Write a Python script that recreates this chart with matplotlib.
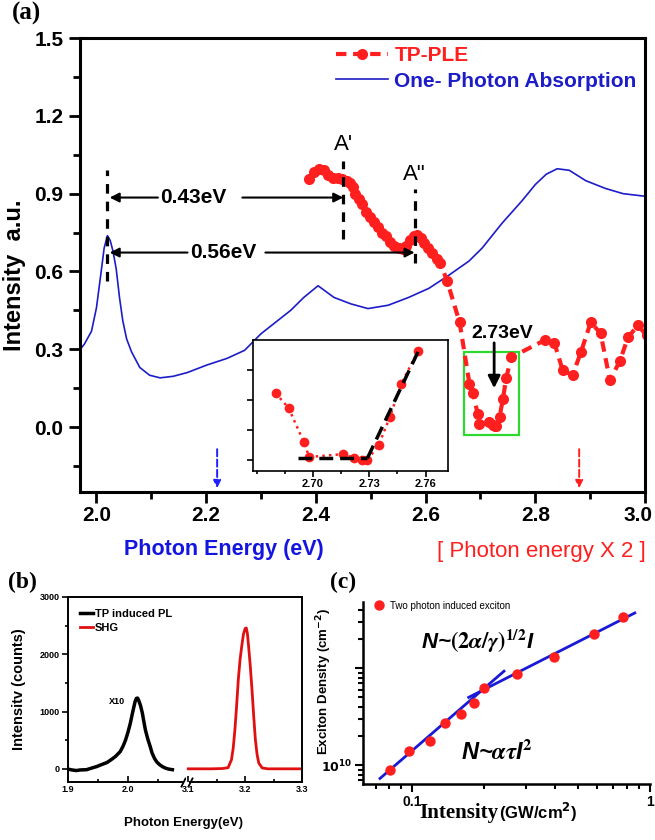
import matplotlib
matplotlib.use('Agg')
import matplotlib.pyplot as plt
from matplotlib.patches import Rectangle
from matplotlib.transforms import ScaledTranslation
from matplotlib.ticker import MultipleLocator, LogLocator, NullFormatter

# ---------------- data ----------------
# (a) one-photon absorption (blue line)
abs_x = [1.969, 1.978, 1.991, 2.000, 2.008, 2.014, 2.020, 2.025, 2.030, 2.036,
         2.042, 2.048, 2.055, 2.064, 2.079, 2.097, 2.116, 2.140, 2.165, 2.202,
         2.238, 2.270, 2.300, 2.330, 2.354, 2.378, 2.404, 2.433, 2.464, 2.495,
         2.532, 2.569, 2.606, 2.642, 2.679, 2.703, 2.739, 2.776, 2.800, 2.820,
         2.840, 2.862, 2.892, 2.928, 2.960, 3.000]
abs_y = [0.296, 0.32, 0.37, 0.46, 0.59, 0.69, 0.738, 0.72, 0.68, 0.61,
         0.50, 0.41, 0.34, 0.29, 0.23, 0.20, 0.19, 0.196, 0.21, 0.24,
         0.265, 0.296, 0.36, 0.41, 0.45, 0.50, 0.545, 0.50, 0.475, 0.457,
         0.47, 0.50, 0.535, 0.585, 0.64, 0.69, 0.785, 0.873, 0.935, 0.975,
         0.996, 0.99, 0.95, 0.92, 0.90, 0.89]

# (a) two-photon PLE (red dots), x in photon energy x 2
tp_x = [2.388, 2.396, 2.405, 2.414, 2.422, 2.431, 2.440, 2.448, 2.456, 2.463,
        2.468, 2.472, 2.478, 2.485, 2.492, 2.499, 2.506, 2.513, 2.520, 2.527,
        2.535, 2.543, 2.551, 2.559, 2.565, 2.571, 2.578, 2.585, 2.592, 2.598,
        2.605, 2.612, 2.620, 2.627, 2.639, 2.662, 2.680, 2.687, 2.695, 2.698,
        2.716, 2.722, 2.726, 2.729, 2.735, 2.741, 2.747, 2.756, 2.817, 2.835,
        2.850, 2.868, 2.883, 2.901, 2.919, 2.936, 2.954, 2.969, 2.987, 3.003]
tp_y = [0.955, 0.985, 0.995, 0.99, 0.97, 0.962, 0.960, 0.955, 0.950, 0.940,
        0.925, 0.900, 0.880, 0.860, 0.830, 0.810, 0.790, 0.770, 0.750, 0.735,
        0.715, 0.700, 0.690, 0.685, 0.700, 0.720, 0.735, 0.740, 0.730, 0.710,
        0.690, 0.670, 0.650, 0.632, 0.565, 0.404, 0.167, 0.131, 0.049, 0.012,
        0.019, 0.010, 0.005, 0.005, 0.041, 0.109, 0.189, 0.269, 0.335, 0.323,
        0.219, 0.200, 0.288, 0.404, 0.362, 0.181, 0.254, 0.346, 0.392, 0.354]

# inset linear fits around the 2.73 eV edge
fit_flat_x = [2.692, 2.729]
fit_flat_y = [0.009, 0.009]
fit_rise_x = [2.729, 2.756]
fit_rise_y = [0.009, 0.267]

# marked energies
peak_E, A1_E, A2_E, edge_E = 2.02, 2.45, 2.58, 2.725
exc_1p_E, exc_2p_E = 2.22, 2.88

# (b) TP induced PL (x10) and SHG
pl_x = [1.900, 1.907, 1.914, 1.920, 1.931, 1.940, 1.948, 1.955, 1.965, 1.972,
        1.979, 1.987, 1.992, 1.996, 2.000, 2.004, 2.007, 2.010, 2.012, 2.014,
        2.016, 2.018, 2.021, 2.024, 2.026, 2.029, 2.033, 2.037, 2.040, 2.044,
        2.048, 2.053, 2.058, 2.063, 2.068, 2.074]
pl_y = [-5, -20, -30, -20, -15, 15, 40, 70, 110, 160,
        215, 300, 400, 505, 640, 800, 950, 1090, 1180, 1230,
        1235, 1190, 1100, 970, 850, 680, 520, 390, 280, 185,
        120, 70, 35, 10, -5, -15]
shg_x = [3.100, 3.120, 3.140, 3.160, 3.170, 3.176, 3.179, 3.182, 3.185, 3.188,
         3.191, 3.194, 3.197, 3.200, 3.202, 3.204, 3.206, 3.209, 3.212, 3.215,
         3.218, 3.221, 3.224, 3.230, 3.240, 3.260, 3.280, 3.300]
shg_y = [0, 0, 0, 5, 20, 160, 360, 680, 1100, 1560,
         1900, 2140, 2350, 2450, 2460, 2360, 2150, 1800, 1390, 930,
         510, 250, 100, 15, 0, 0, 0, 0]

# (c) exciton density vs intensity
exc_I = [0.0807, 0.097, 0.119, 0.137, 0.160, 0.181, 0.200, 0.276, 0.396, 0.579, 0.769]
exc_N = [8.9e9, 1.39e10, 1.77e10, 2.71e10, 3.36e10, 4.36e10, 6.2e10, 8.7e10,
         1.30e11, 2.24e11, 3.36e11]
fit_lo_I = [0.0731, 0.243]
fit_lo_N = [7.3e9, 9.3e10]
fit_hi_I = [0.1726, 0.863]
fit_hi_N = [5.0e10, 3.7e11]

RED = '#ff1f1f'
BLUE = '#1c1cc8'
SANS = 'Liberation Sans'
SERIF = 'Liberation Serif'

plt.rcParams['font.family'] = SANS
plt.rcParams['font.weight'] = 'bold'
plt.rcParams['axes.labelweight'] = 'bold'

W, H = 655, 840
fig = plt.figure(figsize=(W / 100, H / 100), dpi=100)


def box(left, top, right, bottom):
    return [left / W, 1 - bottom / H, (right - left) / W, (bottom - top) / H]


# ================= panel (a) =================
ax = fig.add_axes(box(80, 38, 645, 492))
abs_line, = ax.plot(abs_x, abs_y, color=BLUE, lw=1.2, label='One- Photon Absorption')
tp_line, = ax.plot(tp_x, tp_y, color=RED, lw=3, ls=(0, (2.5, 1.6)), marker='o',
                   ms=8, mew=0, label='TP-PLE')
ax.set_xlim(1.97, 3.0)
ax.set_ylim(-0.25, 1.5)
ax.set_xticks([2.0, 2.2, 2.4, 2.6, 2.8, 3.0],
              labels=['2.0', '2.2', '2.4', '2.6', '2.8', '3.0'])
ax.xaxis.set_minor_locator(MultipleLocator(0.1))
ax.yaxis.set_major_locator(MultipleLocator(0.3))
ax.yaxis.set_minor_locator(MultipleLocator(0.15))
ax.tick_params(which='both', direction='out', width=2, labelsize=15, pad=4)
ax.tick_params(axis='x', pad=2)
ax.tick_params(which='major', length=8)
ax.tick_params(which='minor', length=5)
for s in ax.spines.values():
    s.set_linewidth(2.2)
# the 3.0 label sits on the right edge of the canvas: nudge it inwards
lbl30 = ax.get_xticklabels()[-1]
lbl30.set_transform(lbl30.get_transform()
                    + ScaledTranslation(-5 / 72, 0, fig.dpi_scale_trans))

ax.legend(handles=[tp_line, abs_line], loc='upper right', frameon=False,
          fontsize=15, handlelength=2.5, handletextpad=0.3,
          labelspacing=0.3, borderaxespad=0.0, labelcolor='linecolor')

# guide lines at the absorption peak and the A', A'' features
dash = (0, (3, 2.5))
ax.plot([peak_E, peak_E], [0.565, 0.99], color='k', lw=2.3, ls=dash)
ax.plot([A1_E, A1_E], [0.727, 1.027], color='k', lw=2.3, ls=dash)
ax.plot([A2_E, A2_E], [0.631, 0.919], color='k', lw=2.3, ls=dash)
ax.text(A1_E, 1.05, "A'", ha='center', va='bottom', fontsize=16, fontweight='normal')
ax.text(A2_E, 0.935, 'A"', ha='center', va='bottom', fontsize=16, fontweight='normal')

arr = dict(arrowstyle='-|>', color='k', lw=1.5, mutation_scale=14, shrinkA=0, shrinkB=0)
ax.text(2.176, 0.885, '0.43eV', ha='center', va='center', fontsize=15)
ax.annotate('', xy=(peak_E + 0.004, 0.885), xytext=(2.112, 0.885), arrowprops=arr)
ax.annotate('', xy=(A1_E, 0.885), xytext=(2.266, 0.885), arrowprops=arr)
ax.text(2.232, 0.673, '0.56eV', ha='center', va='center', fontsize=15)
ax.annotate('', xy=(peak_E + 0.004, 0.673), xytext=(2.166, 0.673), arrowprops=arr)
ax.annotate('', xy=(A2_E, 0.673), xytext=(2.308, 0.673), arrowprops=arr)

ax.add_patch(Rectangle((2.670, -0.031), 0.101, 0.319, fill=False,
                       ec='#2fd82f', lw=1.6))
ax.text(2.739, 0.362, '2.73eV', ha='center', va='center', fontsize=14)
ax.annotate('', xy=(edge_E, 0.15), xytext=(edge_E, 0.325),
            arrowprops=dict(arrowstyle='-|>', color='k', lw=2, mutation_scale=18,
                            shrinkA=0, shrinkB=0))
for e, c in [(exc_1p_E, '#2020ff'), (exc_2p_E, RED)]:
    ax.annotate('', xy=(e, -0.235), xytext=(e, -0.085),
                arrowprops=dict(arrowstyle='-|>', color=c, lw=1.4, ls='--',
                                mutation_scale=11, shrinkA=0, shrinkB=0))

fig.text(15 / W, 1 - 275 / H, 'Intensity  a.u.', rotation=90, ha='center',
         va='center', fontsize=17)
fig.text(224 / W, 1 - 550 / H, 'Photon Energy (eV)', ha='center', va='center',
         fontsize=15.5, color='#1515e0')
fig.text(541 / W, 1 - 551 / H, '[ Photon energy X 2 ]', ha='center', va='center',
         fontsize=16, color=RED, fontweight='normal')
fig.text(12 / W, 1 - 13 / H, '(a)', family=SERIF, fontsize=18, va='center')

# inset: zoom on the points inside the green box
in_box = [i for i, x in enumerate(tp_x) if 2.67 <= x <= 2.76]
axin = fig.add_axes(box(253, 340, 448, 471))
axin.plot([tp_x[i] for i in in_box], [tp_y[i] for i in in_box], color=RED, lw=1.8,
          ls=':', marker='o', ms=7, mew=0)
axin.plot(fit_flat_x, fit_flat_y, color='k', lw=2.5, ls=(0, (4, 2)))
axin.plot(fit_rise_x, fit_rise_y, color='k', lw=2.5, ls=(0, (4, 2)))
axin.set_xlim(2.668, 2.772)
axin.set_ylim(-0.022, 0.296)
axin.set_xticks([2.70, 2.73, 2.76], labels=['2.70', '2.73', '2.76'])
axin.xaxis.set_minor_locator(MultipleLocator(0.015))
axin.set_yticks([0.005, 0.078, 0.150, 0.223], labels=[])
axin.tick_params(which='both', direction='out', width=1.2, labelsize=8, pad=2)
axin.tick_params(which='major', length=4)
axin.tick_params(which='minor', length=2.5)
for s in axin.spines.values():
    s.set_linewidth(1.2)

# ================= panel (b) =================
axl = fig.add_axes(box(68, 597, 186, 782))
axr = fig.add_axes(box(186, 597, 302, 782), sharey=axl)
pl_line, = axl.plot(pl_x, pl_y, color='k', lw=2.5, label='TP induced PL')
shg_line, = axr.plot(shg_x, shg_y, color='#e01010', lw=2, label='SHG')
axl.set_xlim(1.9, 2.0967)
axr.set_xlim(3.096, 3.3)
axl.set_ylim(-230, 3000)
axl.set_xticks([1.9, 2.0])
axl.xaxis.set_minor_locator(MultipleLocator(0.05))
axr.set_xticks([3.1, 3.2, 3.3])
axr.xaxis.set_minor_locator(MultipleLocator(0.05))
axl.yaxis.set_major_locator(MultipleLocator(1000))
axl.yaxis.set_minor_locator(MultipleLocator(500))
axl.spines['right'].set_visible(False)
axr.spines['left'].set_visible(False)
axr.tick_params(axis='y', which='both', left=False, labelleft=False)
axl.spines['bottom'].set_bounds(1.9, 2.092)
axr.spines['bottom'].set_bounds(3.103, 3.3)
for a in (axl, axr):
    a.tick_params(which='both', labelsize=6.5, width=1.2, pad=2)
    a.tick_params(axis='x', which='both', direction='in')
    a.tick_params(axis='y', which='both', direction='out')
    a.tick_params(which='major', length=4)
    a.tick_params(which='minor', length=2.5)
    for s in a.spines.values():
        s.set_linewidth(1.4)
brk = dict(marker=[(-1, -2), (1, 2)], markersize=7, linestyle='none', color='k',
           mec='k', mew=1.3, clip_on=False)
axl.plot([2.092], [0], transform=axl.get_xaxis_transform(), **brk)
axr.plot([3.103], [0], transform=axr.get_xaxis_transform(), **brk)

axl.legend(handles=[pl_line, shg_line], loc='upper left', bbox_to_anchor=(0.06, 0.96),
           frameon=False, fontsize=8, handlelength=1.2, handletextpad=0.2,
           labelspacing=0.35, borderaxespad=0)
axl.text(1.982, 1175, 'X10', ha='center', va='center', fontsize=6.5)
axl.set_ylabel('Intensitv (counts)', fontsize=10.5)
axl.yaxis.set_label_coords(-0.36, 0.5)
fig.text(183 / W, 1 - 823 / H, 'Photon Energy(eV)', ha='center', va='center', fontsize=9.5)
fig.text(8 / W, 1 - 582 / H, '(b)', family=SERIF, fontsize=17, va='center')

# ================= panel (c) =================
axc = fig.add_axes(box(363, 602, 650, 784))
axc.plot(fit_lo_I, fit_lo_N, color='#1a1ad6', lw=2)
axc.plot(fit_hi_I, fit_hi_N, color='#1a1ad6', lw=2)
axc.plot(exc_I, exc_N, 'o', color=RED, ms=7.5, mew=0, label='Two photon induced exciton')
axc.set_xscale('log')
axc.set_yscale('log')
axc.set_xlim(0.062, 1.0)
axc.set_ylim(6.4e9, 4.8e11)
axc.set_xticks([0.1, 1], labels=['0.1', '1'])
axc.xaxis.set_minor_locator(LogLocator(subs=range(2, 10)))
axc.xaxis.set_minor_formatter(NullFormatter())
axc.set_yticks([1e10, 1e11], labels=[r'$\mathbf{10^{10}}$', ''])
axc.yaxis.set_minor_locator(LogLocator(subs=range(2, 10)))
axc.yaxis.set_minor_formatter(NullFormatter())
axc.spines['top'].set_visible(False)
axc.spines['right'].set_visible(False)
for s in axc.spines.values():
    s.set_linewidth(1.8)
axc.tick_params(which='both', direction='out', width=1.5, pad=2)
axc.tick_params(axis='x', labelsize=10)
axc.tick_params(axis='y', labelsize=9)
axc.tick_params(which='major', length=6)
axc.tick_params(which='minor', length=3.5)
axc.legend(loc='upper left', bbox_to_anchor=(0.0, 1.04), frameon=False,
           prop=dict(weight='normal', size=7), handletextpad=0.2, borderaxespad=0.2)
axc.set_ylabel('Exciton Density (cm$^{-2}$)', fontsize=9.5)
axc.yaxis.set_label_coords(-0.1, 0.565)
axc.text(0.47, -0.16, 'Intensity', transform=axc.transAxes, ha='right', va='center',
         family=SERIF, fontsize=15)
axc.text(0.475, -0.155, '(GW/cm$^2$)', transform=axc.transAxes, ha='left',
         va='center', fontsize=12)
axc.text(0.40, 0.786, r'N~$(2\alpha/\gamma)^{1/2}$I', transform=axc.transAxes,
         ha='center', va='center', fontsize=16, fontstyle='italic',
         math_fontfamily='stix')
axc.text(0.467, 0.176, r'N~$\alpha\tau$I$^2$', transform=axc.transAxes,
         ha='center', va='center', fontsize=17, fontstyle='italic',
         math_fontfamily='stix')
fig.text(330 / W, 1 - 582 / H, '(c)', family=SERIF, fontsize=17, va='center')

fig.savefig('out.png', dpi=100)
